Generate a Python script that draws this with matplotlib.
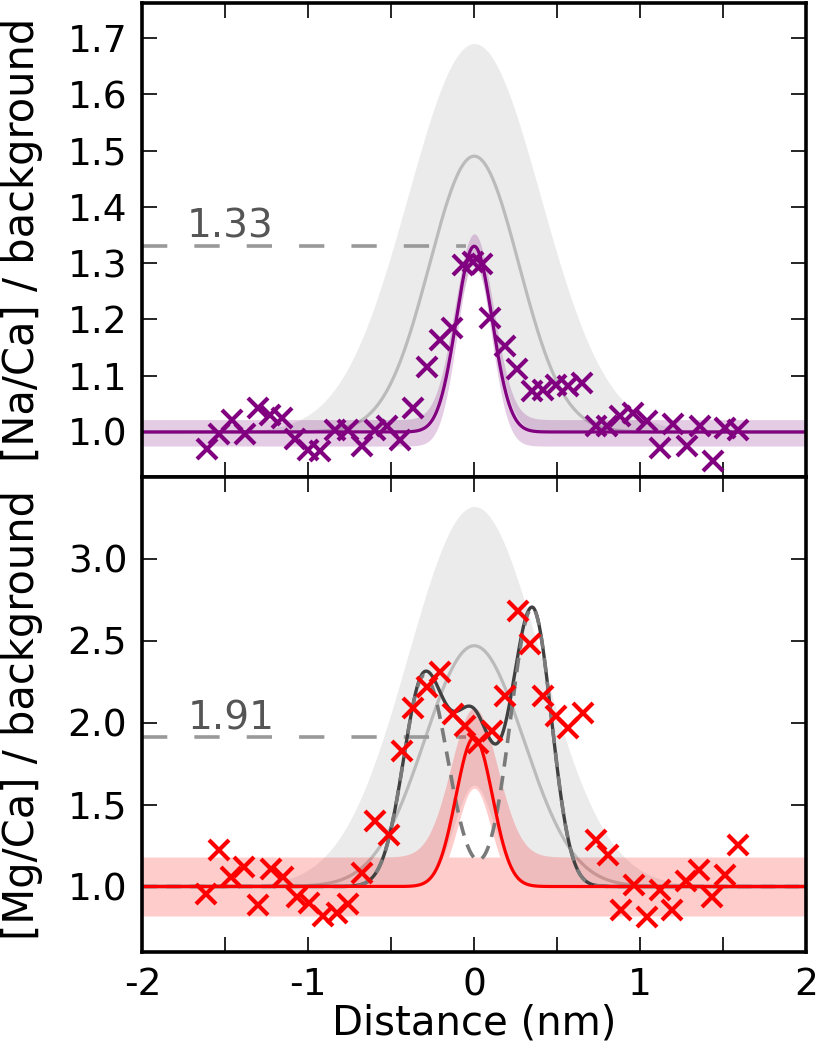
import numpy as np
import matplotlib
matplotlib.use("Agg")
import matplotlib.pyplot as plt
from matplotlib.ticker import MultipleLocator, FuncFormatter

plt.rcParams['font.family'] = ['DejaVu Sans']
plt.rcParams['axes.unicode_minus'] = False

# ---------------- data ----------------
na_x = [-1.612, -1.538, -1.461, -1.381, -1.301, -1.231, -1.160, -1.080, -1.000, -0.929,
        -0.839, -0.759, -0.678, -0.598, -0.528, -0.448, -0.367, -0.287, -0.207, -0.136,
        -0.066, -0.006, 0.045, 0.095, 0.185, 0.255, 0.346, 0.416, 0.496, 0.566,
        0.647, 0.737, 0.798, 0.878, 0.958, 1.039, 1.119, 1.199, 1.280, 1.360,
        1.440, 1.510, 1.590]
na_y = [0.969, 0.996, 1.022, 0.996, 1.042, 1.031, 1.025, 0.988, 0.968, 0.966,
        1.004, 1.004, 0.975, 1.004, 1.010, 0.985, 1.043, 1.116, 1.164, 1.184,
        1.296, 1.302, 1.299, 1.202, 1.152, 1.111, 1.072, 1.075, 1.084, 1.081,
        1.087, 1.010, 1.010, 1.028, 1.034, 1.019, 0.972, 1.015, 0.975, 1.010,
        0.948, 1.007, 1.004]

mg_x = [-1.616, -1.538, -1.467, -1.387, -1.301, -1.225, -1.151, -1.070, -0.994, -0.913,
        -0.829, -0.759, -0.678, -0.598, -0.515, -0.437, -0.367, -0.287, -0.207, -0.130,
        -0.056, 0.024, 0.105, 0.185, 0.265, 0.336, 0.416, 0.496, 0.566, 0.653,
        0.733, 0.807, 0.884, 0.962, 1.039, 1.119, 1.195, 1.275, 1.355, 1.434,
        1.514, 1.590]
mg_y = [0.955, 1.225, 1.058, 1.122, 0.888, 1.107, 1.061, 0.939, 0.902, 0.821,
        0.841, 0.894, 1.082, 1.398, 1.317, 1.827, 2.092, 2.215, 2.307, 2.051,
        1.980, 1.878, 1.949, 2.163, 2.684, 2.480, 2.163, 2.041, 1.970, 2.062,
        1.286, 1.194, 0.857, 1.010, 0.816, 0.980, 0.857, 1.031, 1.102, 0.939,
        1.072, 1.255]

# Gaussian fit parameters: [baseline, amplitude, sigma]
na_fit = [1.0, 0.33, 0.108]
na_fit_lo = [0.975, 0.33, 0.102]
na_fit_hi = [1.022, 0.33, 0.116]
na_model_mid = [1.0, 0.49, 0.27]
na_model_lo = [1.0, 0.29, 0.12]
na_model_hi = [1.0, 0.69, 0.40]
na_peak_label = 1.33

mg_fit = [1.0, 0.91, 0.11]
mg_base_band = [0.82, 1.18]
mg_fit_peak_lo = [1.0, 0.60, 0.10]
mg_fit_peak_hi = [1.18, 0.91, 0.14]
mg_model_mid = [1.0, 1.47, 0.30]
mg_model_lo = [1.0, 0.62, 0.12]
mg_model_hi = [1.0, 2.32, 0.40]
# split Gaussian peaks: [centre, amplitude, sigma_left, sigma_right]
mg_peak_left = [-0.30, 1.29, 0.125, 0.14]
mg_peak_right = [0.35, 1.70, 0.13, 0.115]
mg_peak_label = 1.91

x_ticks = [-2, -1, 0, 1, 2]
na_yticks = [1.0, 1.1, 1.2, 1.3, 1.4, 1.5, 1.6, 1.7]
mg_yticks = [1.0, 1.5, 2.0, 2.5, 3.0]


def gauss(x, p):
    base, amp, sig = p
    return base + amp * np.exp(-x ** 2 / (2 * sig ** 2))


def split_gauss(x, p):
    c, amp, sl, sr = p
    s = np.where(x < c, sl, sr)
    return amp * np.exp(-(x - c) ** 2 / (2 * s ** 2))


xx = np.linspace(-2, 2, 1601)

fig = plt.figure(figsize=(8.16, 10.5), dpi=100)
ax1 = fig.add_axes([0.1746, 0.5457, 0.8131, 0.4514])
ax2 = fig.add_axes([0.1746, 0.0933, 0.8131, 0.4524])

GRAY_BAND = '#ebebeb'
GRAY_LINE = '#bbbbbb'
DASH_COL = '#999999'
TXT_COL = '#555555'

# ---------------- top panel ----------------
ax1.fill_between(xx, gauss(xx, na_model_lo), gauss(xx, na_model_hi),
                 color=GRAY_BAND, lw=0, zorder=1)
ax1.plot(xx, gauss(xx, na_model_mid), color=GRAY_LINE, lw=2.3, zorder=2)
ax1.plot([-2, -0.05], [na_peak_label, na_peak_label], color=DASH_COL, lw=2.6,
         ls=(0, (7, 7.5)), zorder=2)
ax1.fill_between(xx, gauss(xx, na_fit_lo), gauss(xx, na_fit_hi),
                 color='purple', alpha=0.2, lw=0, zorder=3)
ax1.plot(xx, gauss(xx, na_fit), color='purple', lw=2.3, zorder=4)
ax1.plot(na_x, na_y, ls='none', marker='x', color='purple', ms=14, mew=3, zorder=5)
ax1.text(-1.735, 1.345, f'{na_peak_label:.2f}', color=TXT_COL, fontsize=28,
         ha='left', va='baseline', zorder=6)
ax1.set_ylim(0.92, 1.762)
ax1.set_yticks(na_yticks)
ax1.set_ylabel('[Na/Ca] / background', fontsize=30)

# ---------------- bottom panel ----------------
ax2.fill_between(xx, gauss(xx, mg_model_lo), gauss(xx, mg_model_hi),
                 color=GRAY_BAND, lw=0, zorder=1)
ax2.plot(xx, gauss(xx, mg_model_mid), color=GRAY_LINE, lw=2.3, zorder=2)
ax2.plot([-2, -0.05], [mg_peak_label, mg_peak_label], color=DASH_COL, lw=2.6,
         ls=(0, (7, 7.5)), zorder=2)
ax2.fill_between(xx, mg_base_band[0], mg_base_band[1], color='red', alpha=0.2,
                 lw=0, zorder=3)
p_lo = np.maximum(gauss(xx, mg_fit_peak_lo), mg_base_band[1])
p_hi = gauss(xx, mg_fit_peak_hi)
ax2.fill_between(xx, p_lo, p_hi, where=p_hi > p_lo, color='red', alpha=0.2,
                 lw=0, zorder=3)
twin = 1.0 + split_gauss(xx, mg_peak_left) + split_gauss(xx, mg_peak_right)
ax2.plot(xx, twin + (gauss(xx, mg_fit) - mg_fit[0]), color='#404040', lw=2.4, zorder=4)
ax2.plot(xx, twin, color='#7a7a7a', lw=2.6, ls=(0, (4, 2.6)), zorder=4)
ax2.plot(xx, gauss(xx, mg_fit), color='red', lw=2.3, zorder=4)
ax2.plot(mg_x, mg_y, ls='none', marker='x', color='red', ms=14, mew=3, zorder=5)
ax2.text(-1.725, 1.96, f'{mg_peak_label:.2f}', color=TXT_COL, fontsize=28,
         ha='left', va='baseline', zorder=6)
ax2.set_ylim(0.6, 3.5)
ax2.set_yticks(mg_yticks)
ax2.set_ylabel('[Mg/Ca] / background', fontsize=30)
ax2.set_xlabel('Distance (nm)', fontsize=29, labelpad=0)

for ax in (ax1, ax2):
    ax.set_xlim(-2, 2)
    ax.xaxis.set_major_locator(MultipleLocator(1))
    ax.xaxis.set_minor_locator(MultipleLocator(0.5))
    ax.xaxis.set_major_formatter(FuncFormatter(lambda v, pos: f'{int(round(v))}'))
    ax.tick_params(which='both', direction='in', top=True, right=True,
                   length=11, width=1.2, labelsize=27, pad=11)
    ax.tick_params(axis='y', which='minor', left=False, right=False)
    for s in ax.spines.values():
        s.set_linewidth(2.6)
        s.set_zorder(10)
    ax.set_axisbelow(False)

ax1.tick_params(labelbottom=False)
ax1.yaxis.set_label_coords(-0.15, 0.5)
ax2.yaxis.set_label_coords(-0.15, 0.5)

fig.savefig('out.png', dpi=100)
